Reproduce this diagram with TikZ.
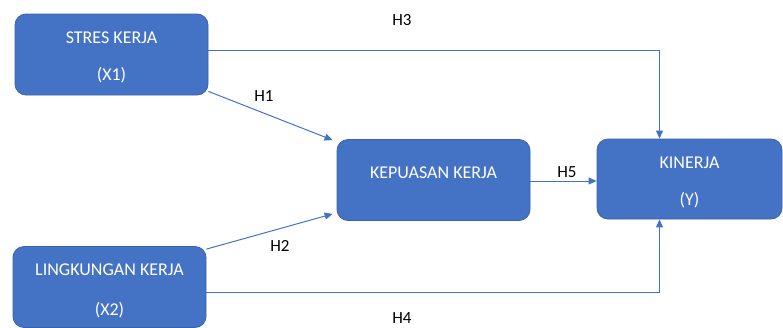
\documentclass[tikz,border=0pt]{standalone}
\usepackage{fontspec}
\setmainfont{Carlito}
\usetikzlibrary{arrows.meta}
\definecolor{boxblue}{HTML}{4472C4}
\definecolor{boxedge}{HTML}{3A63AE}
\tikzset{
  box/.style={draw=boxedge, line width=0.8pt, fill=boxblue, rounded corners=11pt, inner sep=0pt},
  txt/.style={text=white, font=\fontsize{18}{21}\selectfont, inner sep=0pt},
  hlab/.style={text=black, font=\fontsize{17}{20}\selectfont, inner sep=0pt},
  arr/.style={draw=boxblue, line width=1pt, -{Triangle[width=7pt,length=8pt]}}
}
\begin{document}
\begin{tikzpicture}[x=1pt,y=-1pt]
\useasboundingbox (0,0) rectangle (783,327);
% boxes
\node[box, minimum width=193pt, minimum height=81pt] (x1) at (111.5,54.5) {};
\node[txt] (x1a) at (111.5,38) {STRES KERJA};
\node[txt] (x1b) at (111.5,75) {(X1)};

\node[box, minimum width=193pt, minimum height=81pt] (x2) at (109.5,287) {};
\node[txt] (x2a) at (109.5,270) {LINGKUNGAN KERJA};
\node[txt] (x2b) at (109.5,310) {(X2)};

\node[box, minimum width=193pt, minimum height=81pt] (kep) at (433.5,180) {};
\node[txt] (kepa) at (433.5,173) {KEPUASAN KERJA};

\node[box, minimum width=185pt, minimum height=80pt] (y) at (689.5,179) {};
\node[txt] (ya) at (689.5,163) {KINERJA};
\node[txt] (yb) at (689.5,200) {(Y)};

% connectors
\draw[arr] ([yshift=4.5pt]x1.east) -| ([xshift=-30pt]y.north);
\draw[arr] ([yshift=-5pt]x2.east) -| ([xshift=-30pt]y.south);
\draw[arr] ([yshift=4pt]x1.south east) -- ([xshift=-4pt,yshift=-1pt]kep.north west);
\draw[arr] ([yshift=-3pt]x2.north east) -- ([xshift=-4pt,yshift=7pt]kep.south west);
\draw[arr] ([yshift=-1pt]kep.east) -- ([yshift=-2pt]y.west);

% labels
\node[hlab] (h3) at (402,20) {H3};
\node[hlab] (h1) at (264,96) {H1};
\node[hlab] (h2) at (280,246) {H2};
\node[hlab] (h4) at (402,318) {H4};
\node[hlab] (h5) at (567,172) {H5};
\end{tikzpicture}
\end{document}
